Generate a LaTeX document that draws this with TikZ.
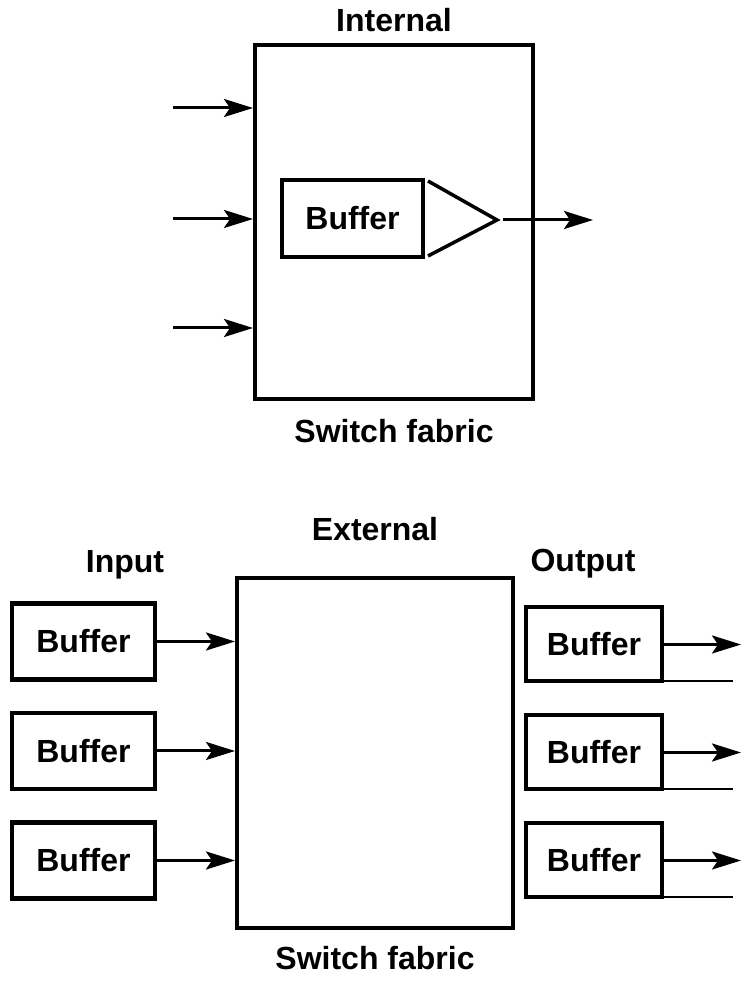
\documentclass[tikz,border=0pt]{standalone}
\usepackage{fontspec}
\setmainfont{Liberation Sans}
\usetikzlibrary{arrows.meta,positioning,calc}

\begin{document}
\begin{tikzpicture}[
    x=1pt, y=1pt,
    node distance=29pt,
    fabric/.style={rectangle, draw=black, line width=4pt, minimum width=278pt, minimum height=354pt},
    buf/.style={rectangle, draw=black, line width=4pt, inner sep=0pt, minimum width=141pt, minimum height=77pt,
                font=\fontsize{32}{38}\selectfont\bfseries},
    ibuf/.style={buf, line width=4.5pt, minimum width=143pt, minimum height=76pt},
    obuf/.style={buf, minimum width=136pt, minimum height=74pt},
    lbl/.style={inner sep=0pt, font=\fontsize{32}{38}\selectfont\bfseries},
    flow/.style={-{Stealth[length=29pt, width=18pt, inset=6pt]}, line width=3pt}
]
\useasboundingbox (0,0) rectangle (741,981);
\node[fabric] (fab) at (394,759) {};
\node[lbl, above=11pt of fab] (intl) {Internal};
\node[lbl, below=18pt of fab] (sw1) {Switch fabric};
\node[buf] (b0) at (352.5,762.5) {Buffer};
\coordinate (i1) at (173,873);
\coordinate (i2) at (173,762);
\coordinate (i3) at (173,653);
\coordinate (tip) at (497,761);
\coordinate (o0) at (593,761);
\draw[flow] (i1) -- (i1 -| fab.west);
\draw[flow] (i2) -- (i2 -| fab.west);
\draw[flow] (i3) -- (i3 -| fab.west);
\draw[line width=3.5pt] ([xshift=3pt,yshift=-3pt]b0.north east) -- (tip) -- ([xshift=3pt,yshift=3pt]b0.south east);
\draw[flow] ([xshift=6pt]tip) -- (o0);

\node[fabric, minimum width=276pt, minimum height=350pt] (ext) at (375,228) {};
\node[lbl, above=35pt of ext] (extl) {External};
\node[lbl, below=16pt of ext] (sw2) {Switch fabric};
\node[lbl, anchor=base] (inl) at (125,408) {Input};
\node[lbl, anchor=base] (outl) at (583,409) {Output};
\node[ibuf] (ib1) at (83.5,339.5) {Buffer};
\node[ibuf, below=of ib1] (ib2) {Buffer};
\node[ibuf, below=of ib2] (ib3) {Buffer};
\node[obuf] (ob1) at (594,336.5) {Buffer};
\node[obuf, below=30pt of ob1] (ob2) {Buffer};
\node[obuf, below=30pt of ob2] (ob3) {Buffer};
\coordinate (rim) at (741,0);
\coordinate (edge) at (733,0);
\draw[flow] (ib1) -- (ib1 -| ext.west);
\draw[flow] (ib2) -- (ib2 -| ext.west);
\draw[flow] (ib3) -- (ib3 -| ext.west);
\draw[flow] (ob1) -- (ob1 -| rim);
\draw[flow] (ob2) -- (ob2 -| rim);
\draw[flow] (ob3) -- (ob3 -| rim);
\draw[line width=2pt] ([yshift=2pt]ob1.south east) -- ([yshift=2pt]ob1.south east -| edge);
\draw[line width=2pt] ([yshift=2pt]ob2.south east) -- ([yshift=2pt]ob2.south east -| edge);
\draw[line width=2pt] ([yshift=2pt]ob3.south east) -- ([yshift=2pt]ob3.south east -| edge);
\end{tikzpicture}
\end{document}
